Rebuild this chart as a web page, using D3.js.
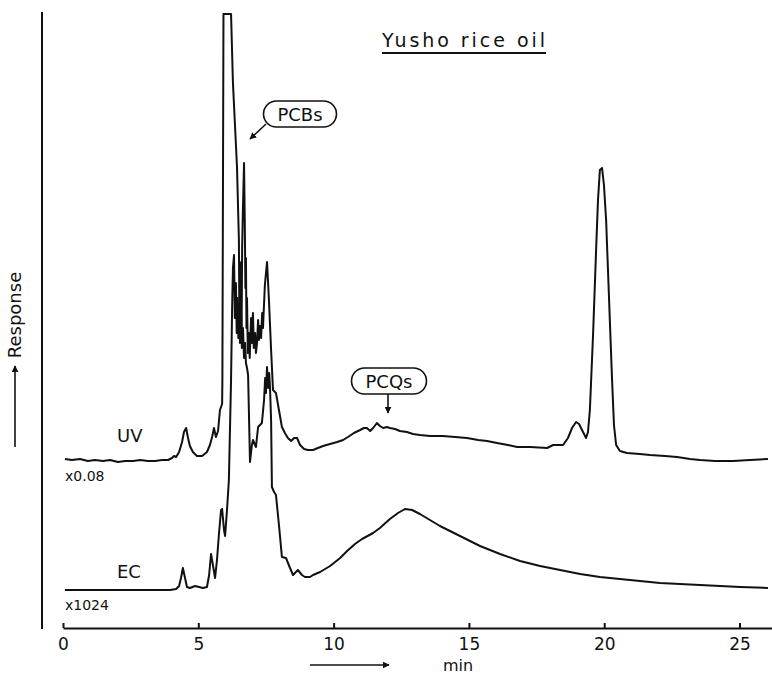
<!DOCTYPE html>
<html lang="en">
  <head>
    <meta charset="UTF-8" />
    <title>Yusho rice oil</title>
    <style>
      body { margin: 0; background: #fff; }
      text { font-family: "DejaVu Sans", sans-serif; fill: #111; }
      .trace { fill: none; stroke: #111; stroke-width: 2px; stroke-linejoin: round; }
      .frame { stroke: #111; stroke-width: 2px; }
      .xaxis path, .xaxis line { stroke: #111; stroke-width: 2px; }
      .xaxis text { font-size: 17px; }
      .note { fill: none; stroke: #111; stroke-width: 1.6px; }
    </style>
  </head>
  <body>
    <script src="https://cdn.jsdelivr.net/npm/d3@7/dist/d3.min.js"></script>
    <script>

      // retention time (min) and detector response (arbitrary units)
      var uvTime = [0.07, 0.33, 0.63, 0.92, 1.18, 1.48, 1.74, 2.03, 2.29, 2.59, 2.85, 3.14, 3.40, 3.66, 3.88,
        4.03, 4.10, 4.18, 4.29, 4.40, 4.47, 4.55, 4.62, 4.69, 4.80, 4.95, 5.14, 5.32, 5.43, 5.51, 5.58,
        5.65, 5.73, 5.80, 5.88, 5.89, 5.93, 6.21, 6.28, 6.43,
        6.50, 6.52, 6.54, 6.56, 6.58, 6.60, 6.62, 6.65, 6.69, 6.72, 6.74, 6.76, 6.78, 6.80, 6.83, 6.87,
        6.90, 6.95, 6.98, 7.02, 7.05, 7.10, 7.13, 7.17, 7.21, 7.24, 7.28, 7.32, 7.36, 7.39, 7.46,
        7.54, 7.61, 7.69, 7.76, 7.87, 7.98,
        8.09, 8.20, 8.31, 8.43, 8.54, 8.65, 8.76, 8.91, 9.05, 9.24, 9.42, 9.61, 9.87, 10.13, 10.35, 10.53,
        10.75, 10.98, 11.12, 11.23, 11.35, 11.46, 11.60, 11.71, 11.83, 11.97, 12.08, 12.27, 12.45, 12.71,
        12.93, 13.19, 13.56, 14.04, 14.49, 14.93, 15.34, 15.67, 16.04, 16.44, 16.78, 17.26, 17.89, 18.11,
        18.48, 18.66, 18.81, 18.96, 19.07, 19.18, 19.33, 19.40, 19.47, 19.59, 19.70, 19.77, 19.84, 19.92,
        19.99, 20.07, 20.18, 20.29, 20.36, 20.44, 20.58, 20.84, 21.32, 21.69, 22.25, 22.69, 23.17, 23.54,
        24.09, 24.76, 25.39, 26.05];
      var uvResp = [16.9, 16.8, 16.9, 16.7, 16.8, 16.7, 16.8, 16.6, 16.7, 16.7, 16.8, 16.7, 16.7, 16.8, 16.8,
        17.0, 17.2, 17.1, 17.6, 18.6, 19.6, 20.0, 19.0, 18.2, 17.6, 17.2, 17.2, 17.6, 18.3, 19.1, 20.0,
        19.1, 19.7, 21.8, 22.4, 24.8, 61.4, 61.4, 54.5, 46.1,
        38.8, 30.0, 36.0, 29.0, 36.6, 30.0, 38.0, 42.0, 46.5, 40.0, 34.0, 37.0, 30.0, 33.0, 27.5, 29.5,
        27.0, 31.0, 28.5, 31.5, 28.0, 29.5, 27.5, 28.5, 30.8, 28.8, 30.2, 29.0, 31.5, 30.0, 34.3,
        36.6, 32.8, 27.8, 23.8, 23.5, 21.8,
        20.1, 19.5, 19.0, 18.7, 19.0, 19.0, 18.3, 17.9, 17.8, 17.8, 18.0, 18.2, 18.4, 18.6, 18.8, 19.1,
        19.5, 19.8, 20.0, 20.0, 19.7, 20.0, 20.5, 20.2, 20.0, 20.1, 20.0, 19.9, 19.7, 19.6,
        19.4, 19.3, 19.2, 19.2, 19.1, 19.0, 18.8, 18.7, 18.5, 18.3, 18.1, 18.1, 18.0, 18.3,
        18.3, 19.0, 20.0, 20.6, 20.4, 19.8, 19.0, 19.6, 21.8, 29.5, 37.8, 42.8, 45.8, 46.0,
        44.3, 40.8, 32.8, 24.8, 20.3, 18.3, 17.7, 17.5, 17.4, 17.3, 17.2, 17.1, 16.9, 16.8,
        16.7, 16.7, 16.8, 16.9];

      var ecTime = [0.07, 1.37, 2.85, 3.95, 4.18, 4.29, 4.36, 4.43, 4.51, 4.58, 4.69, 4.88, 5.03, 5.17, 5.32,
        5.40, 5.47, 5.54, 5.62, 5.69, 5.76, 5.84, 5.88, 5.95, 5.99, 6.06, 6.13, 6.21,
        6.25, 6.28, 6.32, 6.35, 6.39, 6.42, 6.45, 6.48, 6.51, 6.54, 6.58, 6.61, 6.65, 6.69, 6.73, 6.76,
        6.80, 6.84, 6.91, 6.98, 7.02, 7.13, 7.21, 7.35,
        7.43, 7.47, 7.50, 7.54, 7.58, 7.62, 7.65, 7.69,
        7.72, 7.80, 7.87, 7.98, 8.09, 8.24, 8.39, 8.50, 8.68, 8.83, 8.94, 9.13, 9.24,
        9.50, 9.87, 10.24, 10.50, 10.79, 11.05, 11.46, 11.71, 12.08, 12.38, 12.64, 12.90, 13.19, 13.56,
        13.93, 14.30, 14.67, 15.04, 15.41, 15.78, 16.15, 16.89, 17.63, 18.37, 19.11, 19.84, 20.58, 21.32,
        22.06, 22.80, 23.54, 24.28, 25.02, 26.05];
      var ecResp = [3.8, 3.8, 3.8, 3.8, 3.9, 4.2, 5.0, 6.0, 5.0, 4.1, 4.0, 4.2, 4.1, 4.0, 4.1,
        5.3, 7.4, 6.3, 5.0, 6.8, 9.3, 11.8, 11.9, 9.8, 9.2, 11.8, 14.8, 24.8,
        32.1, 36.0, 37.3, 31.0, 34.5, 29.5, 33.0, 29.0, 32.5, 28.5, 31.5, 28.0, 30.0, 27.0, 28.5, 26.5,
        26.0, 25.3, 16.6, 18.3, 18.8, 18.1, 20.1, 20.5,
        22.8, 25.0, 23.5, 26.1, 24.0, 25.5, 24.0, 20.8,
        14.1, 13.6, 13.3, 10.3, 7.1, 7.0, 6.0, 5.3, 5.8, 5.3, 5.1, 5.1, 5.3,
        5.6, 6.2, 7.0, 7.7, 8.4, 8.9, 9.5, 10.0, 10.9, 11.5, 11.9, 11.8, 11.4, 10.8,
        10.2, 9.7, 9.2, 8.7, 8.2, 7.8, 7.4, 6.7, 6.2, 5.8, 5.4, 5.1, 4.9, 4.7,
        4.5, 4.4, 4.3, 4.2, 4.1, 4.0];

      var xTicks = [0, 5, 10, 15, 20, 25];

      var w = 772, h = 675;

      var svg = d3.select("body").append("svg")
        .attr("width", w)
        .attr("height", h);

      var xScale = d3.scaleLinear().domain([0, 26.2]).range([63, 772]);
      var yScale = d3.scaleLinear().domain([0, 61.4]).range([628, 14]);

      var line = d3.line()
        .x(function(d) { return xScale(d[0]); })
        .y(function(d) { return yScale(d[1]); });

      var uv = d3.zip(uvTime, uvResp),
          ec = d3.zip(ecTime, ecResp);

      // left frame line
      svg.append("line")
        .attr("class", "frame")
        .attr("x1", 42).attr("x2", 42)
        .attr("y1", 12).attr("y2", 629);

      svg.append("path").datum(ec).attr("class", "trace").attr("d", line);
      svg.append("path").datum(uv).attr("class", "trace").attr("d", line);

      var xAxis = d3.axisBottom(xScale)
        .tickValues(xTicks)
        .tickSize(-5)
        .tickSizeOuter(0)
        .tickPadding(10);

      svg.append("g")
        .attr("class", "xaxis")
        .attr("transform", "translate(0," + yScale(0) + ")")
        .call(xAxis);

      // arrow marker
      svg.append("defs").append("marker")
        .attr("id", "head")
        .attr("viewBox", "0 0 10 10")
        .attr("refX", 9).attr("refY", 5)
        .attr("markerWidth", 7).attr("markerHeight", 7)
        .attr("markerUnits", "userSpaceOnUse")
        .attr("orient", "auto")
        .append("path")
        .attr("d", "M0,0 L10,5 L0,10 z")
        .attr("fill", "#111");

      // x title
      svg.append("line")
        .attr("class", "note")
        .attr("x1", 310).attr("x2", 389)
        .attr("y1", 665).attr("y2", 665)
        .attr("marker-end", "url(#head)");
      svg.append("text")
        .attr("x", 458).attr("y", 671)
        .attr("text-anchor", "middle")
        .style("font-size", "16px")
        .text("min");

      // y title
      svg.append("line")
        .attr("class", "note")
        .attr("x1", 15).attr("x2", 15)
        .attr("y1", 447).attr("y2", 366)
        .attr("marker-end", "url(#head)");
      svg.append("text")
        .attr("transform", "translate(21,315) rotate(-90)")
        .attr("text-anchor", "middle")
        .style("font-size", "18px")
        .text("Response");

      // title
      svg.append("text")
        .attr("x", 382).attr("y", 47)
        .attr("textLength", 163)
        .attr("lengthAdjust", "spacing")
        .style("font-size", "19px")
        .text("Yusho rice oil");
      svg.append("line")
        .attr("class", "frame")
        .attr("x1", 382).attr("x2", 546)
        .attr("y1", 53).attr("y2", 53);

      // trace labels
      svg.append("text").attr("x", 117).attr("y", 442).style("font-size", "18px").text("UV");
      svg.append("text").attr("x", 65).attr("y", 481).style("font-size", "14px").text("x0.08");
      svg.append("text").attr("x", 117).attr("y", 578).style("font-size", "18px").text("EC");
      svg.append("text").attr("x", 65).attr("y", 610).style("font-size", "14px").text("x1024");

      // callouts
      function callout(cx, cy, bw, label, x1, y1, x2, y2) {
        svg.append("rect")
          .attr("class", "note")
          .attr("x", cx - bw / 2).attr("y", cy - 13)
          .attr("width", bw).attr("height", 26)
          .attr("rx", 13);
        svg.append("text")
          .attr("x", cx).attr("y", cy + 7)
          .attr("text-anchor", "middle")
          .style("font-size", "18px")
          .text(label);
        svg.append("line")
          .attr("class", "note")
          .attr("x1", x1).attr("y1", y1)
          .attr("x2", x2).attr("y2", y2)
          .attr("marker-end", "url(#head)");
      }

      callout(300, 114, 73, "PCBs", 266, 124, 250, 139);
      callout(389, 381, 75, "PCQs", 388, 394, 388, 413);

    </script>
  </body>
</html>
